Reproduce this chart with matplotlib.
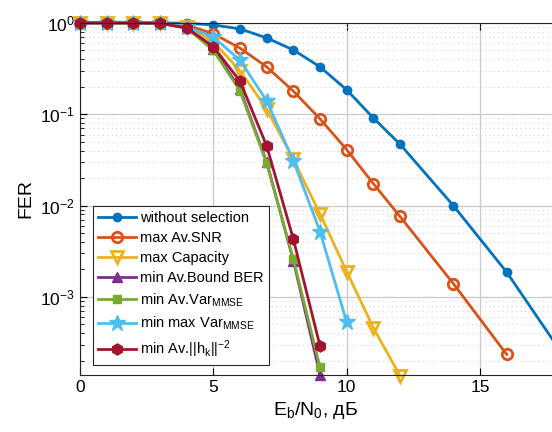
import numpy as np
import matplotlib.pyplot as plt
from matplotlib.ticker import LogLocator, NullFormatter, FixedLocator

plt.rcParams['font.family'] = ['Liberation Sans', 'DejaVu Sans']
plt.rcParams['mathtext.fontset'] = 'custom'
plt.rcParams['mathtext.rm'] = 'Liberation Sans'
plt.rcParams['mathtext.it'] = 'Liberation Sans'

# Eb/N0 points (dB) and FER per selection method
snr_a = [0, 1, 2, 3, 4, 5, 6, 7, 8, 9, 10, 11, 12, 14, 16, 18]
fer_nosel = [1.0, 1.0, 1.0, 1.0, 0.99, 0.95, 0.86, 0.685, 0.506, 0.33, 0.185,
             0.091, 0.047, 0.0100, 0.00187, 0.00026]

snr_b = [0, 1, 2, 3, 4, 5, 6, 7, 8, 9, 10, 11, 12, 14, 16]
fer_snr = [1.0, 1.0, 1.0, 0.99, 0.95, 0.76, 0.53, 0.33, 0.179, 0.089, 0.041,
           0.0174, 0.0076, 0.0014, 0.000235]

snr_c = [0, 1, 2, 3, 4, 5, 6, 7, 8, 9, 10, 11, 12]
fer_cap = [1.0, 1.0, 1.0, 0.99, 0.9, 0.62, 0.30, 0.114, 0.032, 0.0081, 0.0019,
           0.00046, 0.000137]

snr_d = [0, 1, 2, 3, 4, 5, 6, 7, 8, 9, 10]
fer_minmax = [1.0, 1.0, 1.0, 0.99, 0.9, 0.70, 0.39, 0.14, 0.031, 0.0052, 0.00053]

snr_e = [0, 1, 2, 3, 4, 5, 6, 7, 8, 9]
fer_bound = [1.0, 1.0, 1.0, 0.99, 0.88, 0.52, 0.19, 0.030, 0.0025, 0.00014]
fer_var = [1.0, 1.0, 1.0, 0.99, 0.88, 0.50, 0.18, 0.029, 0.0026, 0.00017]
fer_h = [1.0, 1.0, 1.0, 0.99, 0.88, 0.55, 0.23, 0.045, 0.0043, 0.00029]

fig = plt.figure(figsize=(5.52, 4.32), dpi=100)
ax = fig.add_axes([0.145, 0.132, 0.855, 0.815])

kw = dict(lw=2, clip_on=False)
ax.semilogy(snr_a, fer_nosel, '-o', color='#0072BD', ms=6,
            label='without selection', **kw)
ax.semilogy(snr_b, fer_snr, '-o', color='#D95319', ms=7.5, mfc='none', mew=2,
            label='max Av.SNR', **kw)
ax.semilogy(snr_c, fer_cap, '-v', color='#EDB120', ms=8.5, mfc='none', mew=2,
            label='max Capacity', **kw)
ax.semilogy(snr_e, fer_bound, '-^', color='#7E2F8E', ms=7.5,
            label='min Av.Bound BER', **kw)
ax.semilogy(snr_e, fer_var, '-s', color='#77AC30', ms=5.5,
            label=r'min Av.Var$_{\mathregular{MMSE}}$', **kw)
ax.semilogy(snr_d, fer_minmax, '-*', color='#4DBEEE', ms=12,
            label=r'min max Var$_{\mathregular{MMSE}}$', **kw)
ax.semilogy(snr_e, fer_h, '-h', color='#A2142F', ms=8,
            label=r'min Av.||h$_{\mathregular{k}}$||$^{\mathregular{-2}}$', **kw)

ax.set_xlim(0, 17.7)
ax.set_ylim(1.4e-4, 1.0)
ax.xaxis.set_major_locator(FixedLocator([0, 5, 10, 15]))
ax.yaxis.set_major_locator(LogLocator(base=10, numticks=10))
ax.yaxis.set_minor_locator(LogLocator(base=10, subs=np.arange(2, 10), numticks=10))
ax.yaxis.set_minor_formatter(NullFormatter())

ax.grid(True, which='major', color='#cccccc', lw=1)
ax.grid(True, which='minor', axis='y', color='#d0d0d0', lw=0.8, ls=(0, (1, 3)))
ax.set_axisbelow(True)
ax.tick_params(which='both', direction='in', top=True, right=False, labelsize=12.5)
ax.tick_params(which='major', length=5)
ax.tick_params(which='minor', length=3)
ax.spines['right'].set_visible(False)
for s in ax.spines.values():
    s.set_color('#262626')

ax.set_xlabel(r'$\mathregular{E_b/N_0}$, дБ', fontsize=14)
ax.set_ylabel('FER', fontsize=14)

leg = ax.legend(loc='lower left', bbox_to_anchor=(0.027, 0.028), fontsize=10.5,
                fancybox=False, edgecolor='#262626', framealpha=1,
                handlelength=2.6, borderpad=0.35, labelspacing=0.42,
                handletextpad=0.3, borderaxespad=0)
leg.get_frame().set_linewidth(0.8)

plt.savefig('out.png', dpi=100)
